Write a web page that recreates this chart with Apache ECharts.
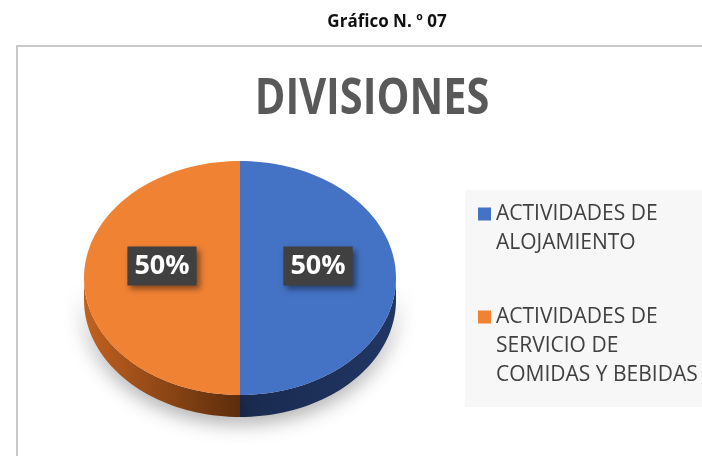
<!DOCTYPE html>
<html>
<head>
<meta charset="utf-8">
<script src="https://cdn.jsdelivr.net/npm/echarts@6/dist/echarts.min.js"></script>
<style>
html, body { margin: 0; padding: 0; background: #fff; }
#chart { width: 702px; height: 456px; }
</style>
</head>
<body>
<div id="chart"></div>
<script>
// Dados do gráfico
const figureTitle = 'Gráfico N. º 07'
const chartTitle = 'DIVISIONES'
const categories = ['ACTIVIDADES DE ALOJAMIENTO', 'ACTIVIDADES DE SERVICIO DE COMIDAS Y BEBIDAS']
const legendLines = [
    ['ACTIVIDADES DE', 'ALOJAMIENTO'],
    ['ACTIVIDADES DE', 'SERVICIO DE', 'COMIDAS Y BEBIDAS']
]
const values = [50, 50]

const topColors = ['#4472c4', '#f08233']
const sideColors = [['#1a2a4e', '#203663'], ['#c2611f', '#5c2d0c']]

const total = values.reduce((a, b) => a + b, 0)

// geometria da pizza "3D" (pixels)
const cx = 240, cy = 278, rx = 156, ry = 117, depth = 22
const lineH = 29
const iconSize = 13
const legendItemH = 87

const pt = (deg, dy = 0, k = 1) => {
    const a = deg * Math.PI / 180
    return [cx + k * rx * Math.sin(a), cy - k * ry * Math.cos(a) + dy]
}
const arc = (a0, a1, dy) => {
    const pts = []
    const n = Math.max(2, Math.ceil(Math.abs(a1 - a0) / 2))
    for (let k = 0; k <= n; k++) pts.push(pt(a0 + (a1 - a0) * k / n, dy))
    return pts
}

// ícone da legenda alinhado com a primeira linha do texto
const legendIcon = (lines) => {
    const firstCenter = legendItemH / 2 - (lines - 1) * lineH / 2
    const y0 = firstCenter - iconSize / 2
    return 'path://M0,0L0,0M0,' + y0 + 'h' + iconSize + 'v' + iconSize + 'h-' + iconSize + 'z' +
        'M' + iconSize + ',' + legendItemH + 'L' + iconSize + ',' + legendItemH
}

const makeRender = (i) => (params, api) => {
    const v = api.value(0)
    const start = values.slice(0, i).reduce((a, b) => a + b, 0) / total * 360
    const end = start + v / total * 360
    const children = []

    // parede lateral (só a parte da frente)
    const s0 = Math.max(start, 90), s1 = Math.min(end, 270)
    if (s1 > s0) {
        const wall = arc(s0, s1, 0).concat(arc(s1, s0, depth))
        const xs = wall.map(p => p[0])
        children.push({
            type: 'polygon',
            z2: 1,
            shape: { points: wall },
            style: {
                fill: new echarts.graphic.LinearGradient(
                    Math.min(...xs), 0, Math.max(...xs), 0,
                    [{ offset: 0, color: sideColors[i][0] }, { offset: 1, color: sideColors[i][1] }],
                    true
                ),
                shadowBlur: 20,
                shadowColor: 'rgba(0,0,0,0.35)',
                shadowOffsetY: 6
            }
        })
    }

    // face superior
    children.push({
        type: 'polygon',
        z2: 5,
        shape: { points: [[cx, cy]].concat(arc(start, end, 0)) },
        style: { fill: topColors[i] }
    })

    // rótulo de porcentagem
    const lp = pt((start + end) / 2, -12, 0.5)
    children.push({
        type: 'text',
        z2: 10,
        x: lp[0],
        y: lp[1],
        style: {
            text: Math.round(v / total * 100) + '%',
            x: 0,
            y: 0,
            align: 'center',
            verticalAlign: 'middle',
            fill: '#ffffff',
            font: 'bold 27px "Open Sans", sans-serif',
            backgroundColor: '#404040',
            padding: [6, 7, 6, 7],
            shadowBlur: 6,
            shadowColor: 'rgba(0,0,0,0.45)',
            shadowOffsetX: 3,
            shadowOffsetY: 3
        }
    })

    return { type: 'group', children }
}

const myChart = echarts.init(document.getElementById('chart'), null, { renderer: 'canvas' })

const option = {
    animation: false,
    backgroundColor: '#ffffff',
    graphic: [
        {
            type: 'rect',
            z: -10,
            shape: { x: 17, y: 46, width: 700, height: 430 },
            style: { fill: '#ffffff', stroke: '#c9c9c9', lineWidth: 2 }
        },
        {
            type: 'rect',
            z: -9,
            shape: { x: 465, y: 190, width: 245, height: 217 },
            style: { fill: '#f7f7f7' }
        },
        {
            type: 'text',
            style: {
                text: figureTitle,
                x: 387,
                y: 22,
                align: 'center',
                verticalAlign: 'middle',
                font: 'bold 17px "Open Sans", sans-serif',
                fill: '#111111'
            }
        },
        {
            type: 'text',
            x: 372,
            y: 100,
            scaleX: 0.83,
            style: {
                text: chartTitle,
                x: 0,
                y: 0,
                align: 'center',
                verticalAlign: 'middle',
                font: 'bold 50px "Open Sans", sans-serif',
                fill: '#595959'
            }
        }
    ],
    legend: {
        orient: 'vertical',
        left: 478,
        top: 185,
        padding: 0,
        itemGap: 30.5,
        itemWidth: iconSize,
        itemHeight: legendItemH,
        selectedMode: false,
        data: categories.map((name, i) => ({
            name,
            icon: legendIcon(legendLines[i].length)
        })),
        formatter: name => legendLines[categories.indexOf(name)].join('\n'),
        textStyle: {
            fontFamily: 'Open Sans',
            fontSize: 21,
            color: '#404040',
            lineHeight: lineH
        }
    },
    series: categories.map((name, i) => ({
        type: 'custom',
        name,
        coordinateSystem: 'none',
        data: [values[i]],
        itemStyle: { color: topColors[i] },
        silent: true,
        renderItem: makeRender(i)
    }))
}

myChart.setOption(option)

window.addEventListener('resize', () => myChart.resize())
</script>
</body>
</html>
